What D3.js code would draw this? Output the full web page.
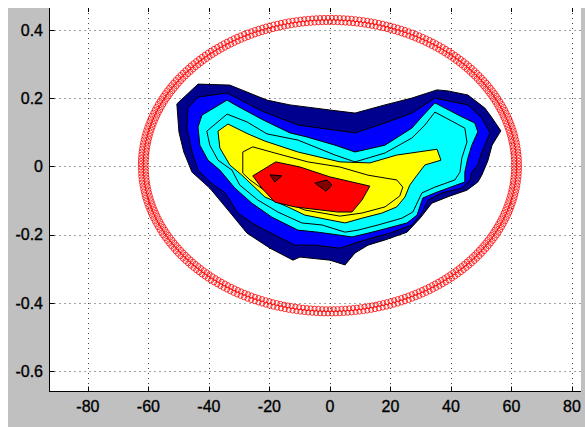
<!DOCTYPE html>
<html>
<head>
<meta charset="utf-8">
<script src="https://cdn.jsdelivr.net/npm/d3@7"></script>
<style>
  body { margin: 0; background: #fff; }
  svg { display: block; }
  .tick-label { font-family: "Liberation Sans", Arial, sans-serif; font-size: 16px; fill: #000; stroke: #000; stroke-width: 0.35px; }
</style>
</head>
<body>
<div id="chart"></div>
<script>
// axis ticks
const xTicks = [-80, -60, -40, -20, 0, 20, 40, 60, 80]
const yTicks = [-0.6, -0.4, -0.2, 0, 0.2, 0.4]
const xDomain = [-92.7, 83.0]
const yDomain = [-0.66, 0.464]

// filled contour bands, outermost first
const bandColors = ["#00008f", "#0000ff", "#00ffff", "#00ffff", "#ffff00", "#ffff00", "#ff0000"]

const band1 = [[-50.6,0.183],[-43.6,0.241],[-33.1,0.238],[-20.8,0.194],[-13.2,0.180],[0,0.165],[8.3,0.156],
  [18.2,0.180],[27.1,0.200],[35.4,0.224],[39.0,0.221],[45.6,0.209],[51.2,0.171],[53.6,0.142],[56.5,0.104],
  [53.6,0.062],[52.2,0.016],[50.2,-0.026],[48.9,-0.046],[45.3,-0.070],[39.7,-0.087],[33.7,-0.108],[29.8,-0.152],
  [25.5,-0.193],[18.2,-0.216],[12.6,-0.231],[8.3,-0.254],[5.0,-0.289],[0,-0.275],[-9.9,-0.266],[-12.2,-0.275],
  [-19.8,-0.240],[-27.4,-0.196],[-33.7,-0.128],[-39.7,-0.064],[-45.6,-0.017],[-48.3,0.042],[-49.9,0.100]]

const band2 = [[-46.9,0.171],[-43.6,0.203],[-34.0,0.215],[-30.7,0.200],[-22.5,0.162],[-10.6,0.121],[1.7,0.106],
  [8.3,0.098],[18.2,0.127],[27.1,0.156],[34.7,0.200],[45.6,0.180],[50.2,0.142],[52.9,0.098],[50.2,0.042],
  [48.9,0.004],[46.9,-0.016],[46.3,-0.040],[43.6,-0.064],[37.0,-0.078],[32.4,-0.099],[30.4,-0.137],[27.1,-0.172],
  [19.8,-0.196],[13.9,-0.210],[8.3,-0.225],[3.3,-0.240],[-5.0,-0.231],[-11.6,-0.231],[-21.5,-0.187],
  [-25.8,-0.166],[-30.4,-0.137],[-34.7,-0.078],[-39.7,-0.046],[-43.6,-0.011],[-45.6,0.042],[-47.3,0.112]]

const band3 = [[-43.6,0.115],[-42.3,0.150],[-34.0,0.194],[-30.7,0.177],[-22.1,0.136],[-13.2,0.098],[-7.6,0.086],
  [1.7,0.062],[8.3,0.042],[18.2,0.062],[27.1,0.112],[30.4,0.145],[34.7,0.186],[43.6,0.145],[47.9,0.127],
  [48.9,0.101],[46.9,0.062],[45.6,0.024],[44.6,-0.017],[44.6,-0.046],[39.0,-0.064],[34.7,-0.078],[30.7,-0.093],
  [28.8,-0.143],[25.5,-0.166],[19.2,-0.181],[12.6,-0.196],[7.3,-0.207],[2.6,-0.201],[-4.0,-0.193],
  [-10.6,-0.187],[-19.2,-0.149],[-25.8,-0.108],[-31.4,-0.064],[-36.4,-0.011],[-40.3,0.018],[-43.0,0.062]]

const band4 = [[-40.7,0.103],[-34.0,0.153],[-27.4,0.130],[-20.8,0.095],[-10.6,0.077],[1.7,0.033],[8.3,0.013],
  [18.2,0.039],[27.1,0.083],[31.4,0.121],[34.7,0.159],[44.6,0.112],[45.3,0.071],[43.6,0.024],[43.0,-0.017],
  [41.3,-0.040],[34.7,-0.061],[30.4,-0.078],[27.4,-0.134],[23.8,-0.152],[15.9,-0.172],[9.3,-0.187],
  [5.0,-0.193],[-2.6,-0.172],[-9.3,-0.166],[-17.2,-0.134],[-23.8,-0.099],[-29.8,-0.055],[-32.4,-0.011],
  [-37.0,0.018],[-39.7,0.062]]

const band5 = [[-37.0,0.103],[-33.7,0.124],[-27.1,0.095],[-21.5,0.074],[-10.6,0.042],[3.3,0.013],[13.2,0.010],
  [22.1,0.033],[35.4,0.050],[36.7,0.018],[31.4,0.004],[28.8,-0.026],[26.4,-0.055],[24.8,-0.090],[22.1,-0.119],
  [17.2,-0.137],[10.6,-0.152],[5.0,-0.166],[-8.3,-0.143],[-13.9,-0.119],[-21.5,-0.090],[-29.1,-0.026],
  [-33.1,0.004],[-36.4,0.054]]

const band6 = [[-28.8,-0.020],[-28.8,0.042],[-25.5,0.057],[-18.2,0.039],[-7.3,0.013],[3.3,-0.002],[12.6,-0.026],
  [22.1,-0.040],[24.1,-0.061],[23.1,-0.087],[18.2,-0.119],[10.6,-0.137],[3.3,-0.146],[-8.3,-0.128],
  [-13.9,-0.108],[-20.5,-0.078],[-26.4,-0.040]]

const band7 = [[-25.5,-0.028],[-17.9,0.013],[-9.9,-0.002],[0,-0.031],[13.2,-0.058],[10.6,-0.099],[7.3,-0.134],
  [2.6,-0.134],[-11.6,-0.119],[-18.2,-0.105],[-22.5,-0.064]]

// small peaks (dark red)
const peakColor = "#800000"
const peak1 = [[-19.8,-0.025],[-15.9,-0.028],[-18.2,-0.046]]
const peak2 = [[-5.0,-0.049],[-1.0,-0.040],[0.7,-0.055],[-1.3,-0.073]]

// ring of red circle markers
const ringCenter = [0, 0.002]
const ringRadiiX = [60.9, 62.5]
const ringRadiiY = [0.421, 0.433]
const ringMarkers = 300

const W = 585, H = 427
const margin = { left: 49.5, right: 581, top: 8, bottom: 391.5 }

const svg = d3.select("#chart").append("svg")
  .attr("width", W)
  .attr("height", H)

svg.append("rect").attr("x", 0).attr("y", 0).attr("width", W).attr("height", H).attr("fill", "#fff")
svg.append("rect").attr("x", 8).attr("y", 8).attr("width", W - 8).attr("height", H - 8).attr("fill", "#c0c0c0")
svg.append("rect")
  .attr("x", margin.left).attr("y", margin.top)
  .attr("width", margin.right - margin.left).attr("height", margin.bottom - margin.top)
  .attr("fill", "#fff")

const x = d3.scaleLinear().domain(xDomain).range([margin.left, margin.right])
const y = d3.scaleLinear().domain(yDomain).range([margin.bottom, margin.top])

// dotted grid
const grid = svg.append("g").attr("stroke", "#444").attr("stroke-width", 1).attr("stroke-dasharray", "1,4")
grid.selectAll(".vg").data(xTicks).enter().append("line")
  .attr("x1", d => Math.round(x(d)) + 0.5).attr("x2", d => Math.round(x(d)) + 0.5)
  .attr("y1", margin.top).attr("y2", margin.bottom)
grid.selectAll(".hg").data(yTicks).enter().append("line")
  .attr("y1", d => Math.round(y(d)) + 0.5).attr("y2", d => Math.round(y(d)) + 0.5)
  .attr("x1", margin.left).attr("x2", margin.right)

// contours
const poly = d => d3.line().x(p => x(p[0])).y(p => y(p[1]))(d) + "Z"
const bands = [band1, band2, band3, band4, band5, band6, band7]
svg.append("g").selectAll("path")
  .data(bands)
  .enter()
  .append("path")
  .attr("d", poly)
  .attr("fill", (d, i) => bandColors[i])
  .attr("stroke", "#000")
  .attr("stroke-width", 1)
  .attr("stroke-linejoin", "round")

svg.append("g").selectAll("path")
  .data([peak1, peak2])
  .enter()
  .append("path")
  .attr("d", poly)
  .attr("fill", peakColor)
  .attr("stroke", "#000")
  .attr("stroke-width", 1)

// ring markers
const ringPts = []
ringRadiiX.forEach((rx, k) => {
  for (let i = 0; i < ringMarkers; i++) {
    const t = (i + k * 0.5) / ringMarkers * 2 * Math.PI
    ringPts.push([ringCenter[0] + rx * Math.cos(t), ringCenter[1] + ringRadiiY[k] * Math.sin(t)])
  }
})
svg.append("g").selectAll("circle")
  .data(ringPts)
  .enter()
  .append("circle")
  .attr("cx", d => x(d[0]))
  .attr("cy", d => y(d[1]))
  .attr("r", 2.6)
  .attr("fill", "none")
  .attr("stroke", "#ff0000")
  .attr("stroke-width", 0.8)

// axes
const axes = svg.append("g").attr("stroke", "#000").attr("stroke-width", 1)
axes.append("line").attr("x1", margin.left).attr("x2", margin.left).attr("y1", margin.top).attr("y2", margin.bottom + 0.5)
axes.append("line").attr("x1", margin.left).attr("x2", margin.right).attr("y1", margin.bottom).attr("y2", margin.bottom)
axes.selectAll(".xt").data(xTicks).enter().append("line")
  .attr("x1", d => Math.round(x(d)) + 0.5).attr("x2", d => Math.round(x(d)) + 0.5)
  .attr("y1", margin.bottom).attr("y2", margin.bottom - 5)
axes.selectAll(".xtt").data(xTicks).enter().append("line")
  .attr("x1", d => Math.round(x(d)) + 0.5).attr("x2", d => Math.round(x(d)) + 0.5)
  .attr("y1", margin.top).attr("y2", margin.top + 4)
axes.selectAll(".yt").data(yTicks).enter().append("line")
  .attr("y1", d => Math.round(y(d)) + 0.5).attr("y2", d => Math.round(y(d)) + 0.5)
  .attr("x1", margin.left).attr("x2", margin.left + 5)

svg.selectAll(".xl").data(xTicks).enter().append("text")
  .attr("class", "tick-label")
  .attr("x", d => x(d))
  .attr("y", 411.5)
  .attr("text-anchor", "middle")
  .text(d => String(d))

svg.selectAll(".yl").data(yTicks).enter().append("text")
  .attr("class", "tick-label")
  .attr("x", 43)
  .attr("y", d => y(d) + 5.8)
  .attr("text-anchor", "end")
  .text(d => String(+d.toFixed(1)))
</script>
</body>
</html>
